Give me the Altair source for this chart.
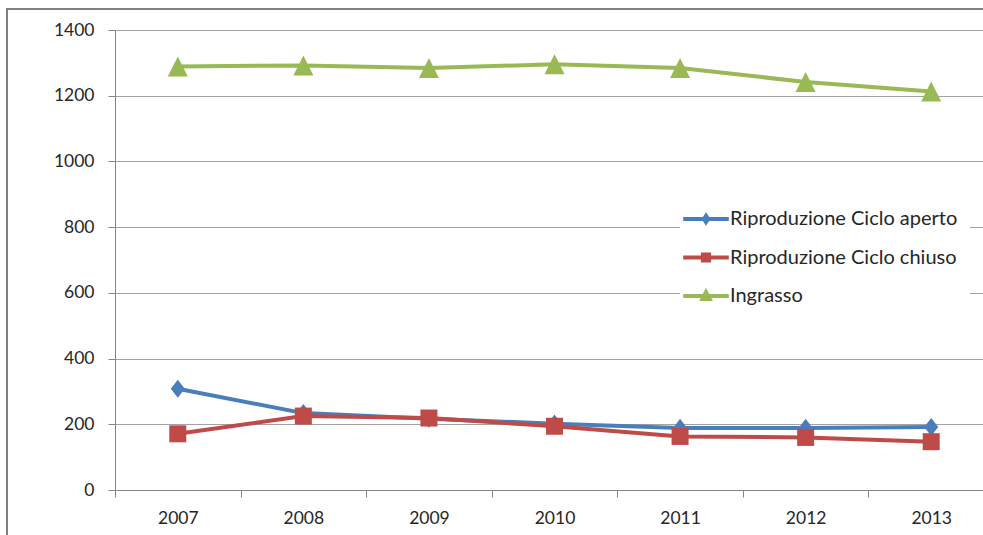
import altair as alt
import pandas as pd

years = ["2007", "2008", "2009", "2010", "2011", "2012", "2013"]
series = ["Riproduzione Ciclo aperto", "Riproduzione Ciclo chiuso", "Ingrasso"]
aperto = [308, 234, 217, 202, 189, 189, 192]
chiuso = [171, 225, 219, 194, 163, 160, 147]
ingrasso = [1289, 1292, 1284, 1296, 1284, 1242, 1213]
colors = ["#4a7ebb", "#be4b48", "#98b954"]
y_ticks = [0, 200, 400, 600, 800, 1000, 1200, 1400]

# marker shapes for the plot (custom paths, scaled by size)
plot_shapes = [
    "M0,-1.29L1,0L0,1.29L-1,0Z",
    "M-1,-1H1V1H-1Z",
    "M0,-1L1,1L-1,1Z",
]
plot_sizes = [196, 289, 400]
# legend symbols: line segment plus small marker
legend_shapes = [
    "M-1.9,0H1.9M0,-0.26L0.17,0L0,0.26L-0.17,0Z",
    "M-1.9,0H1.9M-0.26,-0.26H0.26V0.26H-0.26Z",
    "M-1.9,0H1.9M0,-0.32L0.3,0.26L-0.3,0.26Z",
]

rows = []
for name, vals in zip(series, [aperto, chiuso, ingrasso]):
    for yr, v in zip(years, vals):
        rows.append({"year": yr, "series": name, "value": v})
df = pd.DataFrame(rows)

FONT = "Lato"
TXT = "#262626"
GRID = "#a3a3a3"

leg = alt.Legend(
    title=None,
    orient="none",
    legendX=565,
    legendY=163,
    direction="vertical",
    fillColor="white",
    padding=12,
    symbolSize=576,
    symbolStrokeWidth=4,
    symbolOpacity=1,
    labelFont=FONT,
    labelFontSize=20,
    labelColor=TXT,
    labelOffset=10,
    labelLimit=400,
    rowPadding=12.5,
)

x_enc = alt.X(
    "year:N",
    sort=years,
    scale=alt.Scale(type="band", range=[0, 879], paddingInner=0, paddingOuter=0),
    axis=alt.Axis(
        title=None,
        labelAngle=0,
        tickBand="extent",
        tickSize=7,
        tickColor="#868686",
        domainColor="#868686",
        labelFont=FONT,
        labelFontSize=17.5,
        labelColor=TXT,
        labelPadding=12,
        grid=False,
    ),
)
y_enc = alt.Y(
    "value:Q",
    scale=alt.Scale(domain=[0, 1400], nice=False),
    axis=alt.Axis(
        title=None,
        values=y_ticks,
        format="d",
        tickSize=7,
        tickColor="#868686",
        domainColor="#868686",
        gridColor=GRID,
        grid=True,
        labelFont=FONT,
        labelFontSize=17.5,
        labelColor=TXT,
        labelPadding=14,
    ),
)
color_scale = alt.Scale(domain=series, range=colors)
color_enc = alt.Color("series:N", scale=color_scale, legend=leg)

base = alt.Chart(df)

frame = alt.Chart(pd.DataFrame({"a": [0]})).mark_rect(
    fill="white", fillOpacity=0, stroke="#7f7f7f", strokeWidth=2
).encode(
    x=alt.value(-108), x2=alt.value(1200), y=alt.value(-21), y2=alt.value(900)
)

lines = base.mark_line(strokeWidth=4).encode(x=x_enc, y=y_enc, color=color_enc)

point_layers = []
for name, shp, sz in zip(series, plot_shapes, plot_sizes):
    point_layers.append(
        base.transform_filter(alt.datum.series == name)
        .mark_point(filled=True, shape=shp, size=sz, opacity=1)
        .encode(x=x_enc, y=y_enc, color=color_enc)
    )

legend_layer = base.mark_point(filled=True, opacity=0, strokeWidth=4).encode(
    x=x_enc,
    y=y_enc,
    color=color_enc,
    stroke=alt.Stroke("series:N", scale=alt.Scale(domain=series, range=colors), legend=leg),
    shape=alt.Shape("series:N", scale=alt.Scale(domain=series, range=legend_shapes), legend=leg),
)

chart = alt.layer(lines, *point_layers, legend_layer, frame).properties(
    width=868,
    height=460,
    padding={"left": 115, "top": 30, "right": 0, "bottom": 45},
    autosize=alt.AutoSizeParams(type="none"),
    background="white",
).configure_view(stroke=None)

chart.save("out.html", embed_options={"renderer": "svg", "actions": False})
